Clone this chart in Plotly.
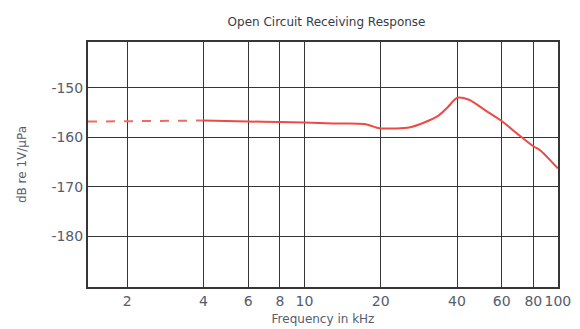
import math
import plotly.graph_objects as go

# Open-circuit receiving response of the hydrophone (dB re 1V/µPa vs kHz)
freq_extrap = [1.4, 4.0]
resp_extrap = [-156.8, -156.6]

freq_khz = [4.0, 6.0, 8.0, 10.0, 13.0, 17.2, 19.2, 20.0, 22.7, 25.9, 29.7,
            34.0, 36.9, 40.1, 44.6, 51.6, 60.0, 68.9, 80.0, 85.1, 100.0]
resp_db = [-156.6, -156.8, -156.9, -157.0, -157.2, -157.3, -158.0, -158.2,
           -158.2, -158.0, -157.0, -155.5, -153.8, -152.0, -152.4, -154.5,
           -156.7, -159.2, -161.8, -162.6, -166.3]

x_ticks = [2, 4, 6, 8, 10, 20, 40, 60, 80, 100]
x_tick_labels = ["2", "4", "6", "8", "10", "20", "40", "60", "80", "100"]
y_ticks = [-150, -160, -170, -180]
y_tick_labels = ["-150", "-160", "-170", "-180"]

text_color = "#555c6c"
grid_color = "#363636"
font_family = "'DejaVu Sans', sans-serif"

fig = go.Figure()
fig.add_trace(go.Scatter(
    x=freq_extrap, y=resp_extrap, mode="lines",
    line=dict(color="#f06a64", width=2, dash="dash"),
    hoverinfo="skip", showlegend=False,
))
fig.add_trace(go.Scatter(
    x=freq_khz, y=resp_db, mode="lines",
    line=dict(color="#ee4a45", width=2, shape="spline", smoothing=0.8),
    showlegend=False,
))

fig.update_layout(
    width=580, height=329,
    margin=dict(l=88, r=22, t=42, b=42, autoexpand=False),
    paper_bgcolor="white", plot_bgcolor="white",
    font=dict(family=font_family, color=text_color, size=14),
    title=dict(text="Open Circuit Receiving Response", x=0.563, xanchor="center",
               y=0.935, yanchor="middle", font=dict(size=12, color="#3a3a44")),
)
fig.update_xaxes(
    type="log", range=[math.log10(1.4), 2.0005],
    tickvals=x_ticks, ticktext=x_tick_labels,
    showgrid=True, gridcolor=grid_color, gridwidth=1.4,
    showline=True, linecolor=grid_color, linewidth=2, mirror=True,
    ticks="", zeroline=False, automargin=False,
    tickfont=dict(size=14),
    title=dict(text="Frequency in kHz", font=dict(size=12), standoff=7),
)
fig.update_yaxes(
    range=[-190.3, -140.7],
    tickvals=y_ticks, ticktext=y_tick_labels,
    showgrid=True, gridcolor=grid_color, gridwidth=1.4,
    showline=True, linecolor=grid_color, linewidth=2, mirror=True,
    ticks="", zeroline=False, automargin=False,
    tickfont=dict(size=14),
    title=dict(text="dB re 1V/µPa", font=dict(size=12), standoff=22),
)

fig.write_html("out.html")
